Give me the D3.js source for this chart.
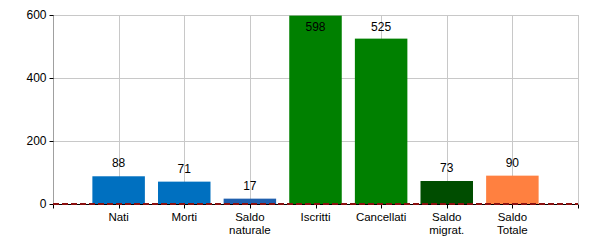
<!DOCTYPE html>
<html><head><meta charset="utf-8">
<script src="https://cdn.jsdelivr.net/npm/d3@7"></script>
<style>body{margin:0;background:#fff}svg{display:block}text{font-family:"Liberation Sans",Arial,sans-serif;font-size:12px;fill:#000}</style>
</head><body><svg id="c" width="600" height="250"></svg>
<script>
const categories = ["Nati","Morti","Saldo naturale","Iscritti","Cancellati","Saldo migrat.","Saldo Totale"];
const labelLines = [["Nati"],["Morti"],["Saldo","naturale"],["Iscritti"],["Cancellati"],["Saldo","migrat."],["Saldo","Totale"]];
const values = [88,71,17,598,525,73,90];
const colors = ["#0070c0","#0070c0","#1f5fae","#008000","#008000","#004d00","#ff8040"];
const yTicks = [0,200,400,600];

const svg = d3.select("#c");
const L=53,R=578,T=15,B=204;
const x = d3.scaleLinear().domain([0,categories.length+1]).range([L,R]);
const y = d3.scaleLinear().domain([0,600]).range([B,T]);
const bw = (x(1)-x(0))*0.8;

// grid
const g = svg.append("g");
g.selectAll(".hg").data(yTicks.filter(d=>d>0)).join("line")
 .attr("x1",L).attr("x2",R).attr("y1",d=>Math.round(y(d))+0.5).attr("y2",d=>Math.round(y(d))+0.5)
 .attr("stroke","#c8c8c8");
g.selectAll(".vg").data(d3.range(1,categories.length+2)).join("line")
 .attr("y1",T).attr("y2",B).attr("x1",d=>Math.round(x(d))+0.5).attr("x2",d=>Math.round(x(d))+0.5)
 .attr("stroke","#c8c8c8");

// bars
svg.selectAll(".bar").data(values).join("rect")
 .attr("x",(d,i)=>x(i+1)-bw/2).attr("width",bw)
 .attr("y",d=>y(d)).attr("height",d=>B-y(d))
 .attr("fill",(d,i)=>colors[i]);

// value labels
svg.selectAll(".vl").data(values).join("text")
 .attr("x",(d,i)=>x(i+1)).attr("y",d=>Math.max(y(d)-9,31))
 .attr("text-anchor","middle").text(d=>d);

// y axis
const ya = svg.append("g").attr("transform",`translate(${L+0.5},0)`)
 .call(d3.axisLeft(y).tickValues(yTicks).tickSize(4).tickPadding(3));
ya.select(".domain").attr("stroke","#a0a0a0").attr("d",`M0,${T}V${B}`);
ya.selectAll("text").style("font-size","12px").style("font-family","Liberation Sans, Arial, sans-serif");

// x axis
const xa = svg.append("g").attr("transform",`translate(0,${B+0.5})`);
xa.append("line").attr("x1",L).attr("x2",R).attr("stroke","#000");
xa.selectAll(".tk").data(d3.range(0,categories.length+2)).join("line")
 .attr("x1",d=>Math.round(x(d))+0.5).attr("x2",d=>Math.round(x(d))+0.5).attr("y1",0).attr("y2",4).attr("stroke","#000");
xa.selectAll(".xl").data(labelLines).join("text")
 .attr("x",(d,i)=>x(i+1)).attr("y",16).attr("text-anchor","middle").style("font-size","11.5px")
 .selectAll("tspan").data(d=>d).join("tspan")
 .attr("x",function(){return this.parentNode.getAttribute("x");})
 .attr("dy",(d,j)=>j?13:0).text(d=>d);

// dashed zero line
svg.append("line").attr("x1",L).attr("x2",R).attr("y1",y(0)).attr("y2",y(0))
 .attr("stroke","#8b1010").attr("stroke-width",2).attr("stroke-dasharray","6,3");
</script></body></html>
